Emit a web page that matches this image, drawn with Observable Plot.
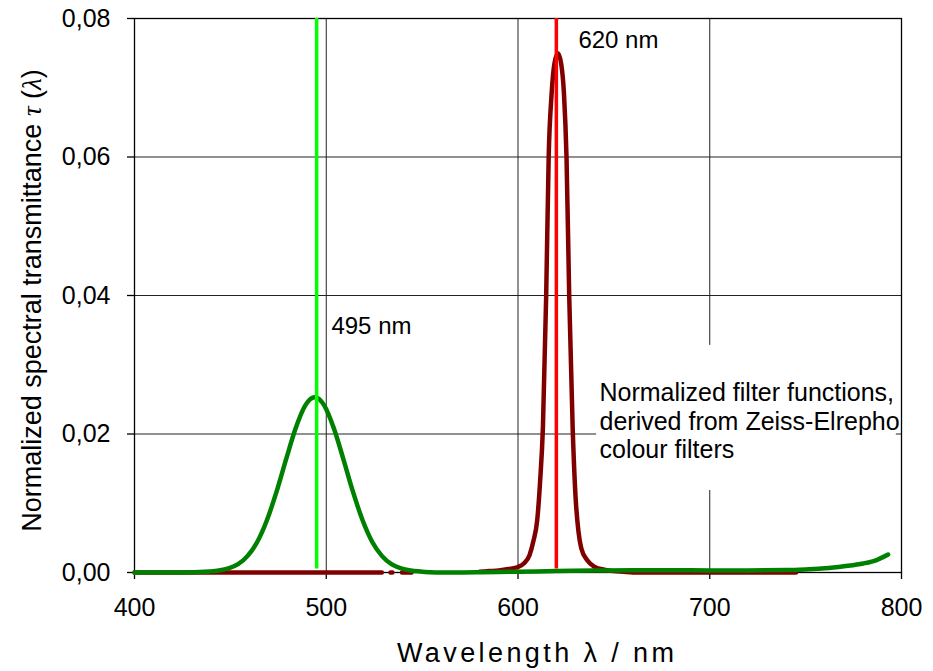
<!DOCTYPE html>
<html><head><meta charset="utf-8">
<script src="https://cdn.jsdelivr.net/npm/d3@7"></script>
<script src="https://cdn.jsdelivr.net/npm/@observablehq/plot@0.6"></script>
<style>body{margin:0;background:#fff} #chart{width:933px;height:671px}</style>
</head><body><div id="chart"></div>
<script>
// ---- data ----
const xTicks = [400, 500, 600, 700, 800];
const yTicks = [0, 0.02, 0.04, 0.06, 0.08];

const greenWavelengths = [400, 410, 420, 430, 434, 439, 444, 449, 454, 459, 464, 469, 474, 479, 484, 489, 494, 499, 504, 509, 514, 519, 524, 529, 534, 539, 544, 549, 554, 560, 570, 580, 590, 600, 620, 640, 660, 680, 700, 720, 740, 750, 760, 770, 780, 787, 793];
const greenValues = [0, 0, 0, 0.00003, 0.00006, 0.00015, 0.0003, 0.0006, 0.0012, 0.0024, 0.0044, 0.0075, 0.0116, 0.0163, 0.0208, 0.0241, 0.0253, 0.0241, 0.0208, 0.0163, 0.0116, 0.0075, 0.0044, 0.0024, 0.0012, 0.0006, 0.0003, 0.00015, 0.00005, 0, 0, 0.00003, 0.00008, 0.00012, 0.0002, 0.00028, 0.00032, 0.00032, 0.0003, 0.0003, 0.00035, 0.00045, 0.0006, 0.0009, 0.0013, 0.0018, 0.0026];

const redWavelengths = [400, 450, 500, 529, 530, 533.5, 534.5, 535, 539.5, 544.5, 545, 580, 585, 590, 595, 600, 603, 606, 608, 610, 611.5, 613, 614.7, 616, 617.5, 619, 620.8, 622.5, 624, 625.3, 626.7, 628.5, 630, 631.5, 633, 636, 640, 645, 650, 655, 660, 700, 745];
const redValues = [0, 0, 0, 0, null, 0, 0, null, 0, 0, null, 0.0001, 0.0002, 0.0003, 0.0005, 0.0008, 0.0013, 0.0025, 0.0045, 0.0075, 0.013, 0.021, 0.040, 0.060, 0.069, 0.0735, 0.075, 0.0735, 0.069, 0.060, 0.040, 0.021, 0.011, 0.006, 0.0035, 0.0018, 0.0008, 0.0004, 0.0002, 0.0001, 0, 0, 0];

const markerWavelengths = [495, 620];
const markerColors = ["#00ff00", "#ff0000"];

const annotationTexts = ["495 nm", "620 nm"];
const annotationX = [502.7, 631.5];
const annotationY = [0.0355, 0.0768];
const noteText = "Normalized filter functions,\nderived from Zeiss-Elrepho\ncolour filters";
const noteX = [642.5];
const noteY = [0.02195];
const boxX = [641, 797.3];
const boxY = [0.01184, 0.0328];

const xLabel = "Wavelength λ / nm";
const yLabel = "Normalized spectral transmittance τ (λ)";

// ---- build tables ----
const green = greenWavelengths.map((w, i) => ({w, v: greenValues[i]}));
const red = redWavelengths.map((w, i) => ({w, v: redValues[i]}));
const markers = markerWavelengths.map((w, i) => ({w, c: markerColors[i]}));
const annotations = annotationTexts.map((t, i) => ({t, x: annotationX[i], y: annotationY[i]}));
const note = [{t: noteText, x: noteX[0], y: noteY[0]}];
const box = [{x1: boxX[0], x2: boxX[1], y1: boxY[0], y2: boxY[1]}];
const fmt = d => d.toFixed(2).replace(".", ",");
const font = "'Liberation Sans', Arial, Helvetica, sans-serif";

const chart = Plot.plot({
  width: 933, height: 671,
  marginLeft: 134, marginRight: 32, marginTop: 18, marginBottom: 99,
  style: {fontFamily: font, fontSize: "25px", color: "#000", background: "#fff"},
  x: {domain: [400, 800]},
  y: {domain: [0, 0.08]},
  marks: [
    Plot.gridX(xTicks.slice(1, -1), {stroke: "#222", strokeOpacity: 1, strokeWidth: 1}),
    Plot.gridY(yTicks.slice(1, -1), {stroke: "#222", strokeOpacity: 1, strokeWidth: 1}),
    Plot.rect(box, {x1: "x1", x2: "x2", y1: "y1", y2: "y2", fill: "white"}),
    Plot.frame({stroke: "#000", strokeWidth: 1.3}),
    Plot.axisX(xTicks, {tickSize: 7, tickPadding: 19, tickFormat: d => String(d), label: null, fontSize: 25, strokeWidth: 1.3}),
    Plot.axisY(yTicks, {tickSize: 7, tickPadding: 17, tickFormat: fmt, label: null, fontSize: 25, strokeWidth: 1.3}),
    Plot.line(red, {x: "w", y: "v", stroke: "#800000", strokeWidth: 4.5, curve: "monotone-x"}),
    Plot.line(green, {x: "w", y: "v", stroke: "#008000", strokeWidth: 4.5, curve: "monotone-x"}),
    Plot.ruleX(markers, {x: "w", y1: 0.0005, y2: 0.08, stroke: "c", strokeWidth: 3.5}),
    Plot.text(annotations, {x: "x", y: "y", text: "t", textAnchor: "start", fontSize: 24, fill: "#000"}),
    Plot.text(note, {x: "x", y: "y", text: "t", textAnchor: "start", fontSize: 25, lineHeight: 1.13, fill: "#000"}),
    Plot.text([xLabel], {x: () => 610, frameAnchor: "bottom", dy: 89, text: d => d, fontSize: 27, fill: "#000", textAnchor: "middle"}),
    Plot.text([yLabel], {frameAnchor: "left", dx: -102, dy: 5, rotate: -90, text: d => d, fontSize: 27, fill: "#000", textAnchor: "middle"})
  ]
});
document.getElementById("chart").appendChild(chart);

d3.select(chart).selectAll("text").filter(function() { return this.textContent === xLabel; })
  .attr("letter-spacing", "3.4px");

// italic tau / lambda in the y label
d3.select(chart).selectAll("text").filter(function() { return this.textContent === yLabel; })
  .each(function() {
    const t = d3.select(this);
    t.text(null);
    t.append("tspan").text("Normalized spectral transmittance ");
    t.append("tspan").attr("font-style", "italic").attr("font-family", "'Liberation Serif', serif").text("τ");
    t.append("tspan").text(" (");
    t.append("tspan").attr("font-style", "italic").attr("font-family", "'Liberation Serif', serif").text("λ");
    t.append("tspan").text(")");
  });
</script>
</body></html>
